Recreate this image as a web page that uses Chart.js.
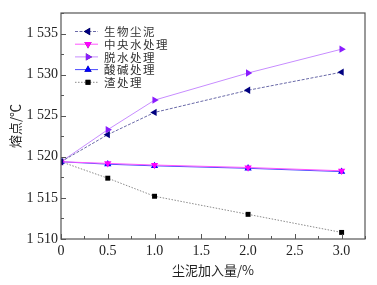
<!DOCTYPE html>
<html>
<head>
<meta charset="utf-8">
<script src="https://cdn.jsdelivr.net/npm/chart.js@4"></script>
<style>
  html, body { margin: 0; padding: 0; background: #fff; }
  #wrap { width: 377px; height: 285px; }
</style>
</head>
<body>
<div id="wrap"><canvas id="meltchart" width="377" height="285"></canvas></div>
<script>
// Data block
const dustAdded = [0, 0.5, 1.0, 2.0, 3.0];
const seriesNames = ['生物尘泥', '中央水处理', '脱水处理', '酸碱处理', '渣处理'];
const bioDust = [1519.4, 1522.7, 1525.4, 1528.1, 1530.3];
const centralWater = [1519.4, 1519.2, 1519.0, 1518.7, 1518.3];
const dewatering = [1519.4, 1523.3, 1526.9, 1530.2, 1533.1];
const acidBase = [1519.4, 1519.1, 1518.9, 1518.6, 1518.2];
const slag = [1519.4, 1517.4, 1515.2, 1513.0, 1510.8];
const xTicks = [0, 0.5, 1.0, 1.5, 2.0, 2.5, 3.0];
const yTicks = [1510, 1515, 1520, 1525, 1530, 1535];

const serifFont = "'Liberation Serif', 'Noto Sans CJK SC', serif";

function pts(values) {
    return values.map((v, i) => ({ x: dustAdded[i], y: v }));
}

// Dataset styling
const seriesData = [bioDust, centralWater, dewatering, acidBase, slag];
const markColor = ['#000080', '#ff00ff', '#8a1cff', '#0000ff', '#000000'];
const lineColor = ['#6a6aa8', '#ff55ff', '#c78cff', '#4c4cff', '#8a8a8a'];
const lineDash = [[3, 1.5], [], [], [], [1.5, 1.5]];
const markStyle = ['triangle', 'triangle', 'triangle', 'triangle', 'rect'];
const markRot = [270, 180, 90, 0, 0];

const datasets = seriesNames.map((name, i) => ({
    label: name,
    data: pts(seriesData[i]),
    borderColor: lineColor[i],
    backgroundColor: markColor[i],
    pointBorderColor: markColor[i],
    pointBackgroundColor: markColor[i],
    borderWidth: 1,
    borderDash: lineDash[i],
    pointStyle: markStyle[i],
    pointRotation: markRot[i],
    pointRadius: i === 4 ? 3.5 : 4.2,
    pointBorderWidth: 0,
    tension: 0
}));

// Frame + inward ticks plugin
const frameTicks = {
    id: 'frameTicks',
    afterDraw(chart) {
        const ctx = chart.ctx;
        const a = chart.chartArea;
        const xs = chart.scales.x, ys = chart.scales.y;
        ctx.save();
        ctx.strokeStyle = '#555';
        ctx.lineWidth = 1.2;
        ctx.strokeRect(a.left, a.top, a.right - a.left, a.bottom - a.top);
        ctx.lineWidth = 1;
        ctx.beginPath();
        for (let v = 0; v <= 3.25; v += 0.25) {
            const px = Math.round(xs.getPixelForValue(v)) + 0.5;
            const len = (Math.round(v * 4) % 2 === 0) ? 5 : 3;
            ctx.moveTo(px, a.bottom);
            ctx.lineTo(px, a.bottom - len);
        }
        for (let v = 1510; v <= 1537.5; v += 2.5) {
            const py = Math.round(ys.getPixelForValue(v)) + 0.5;
            const len = (Math.round(v * 2) % 10 === 0) ? 5 : 3;
            ctx.moveTo(a.left, py);
            ctx.lineTo(a.left + len, py);
        }
        ctx.stroke();
        ctx.restore();
    }
};

// Legend plugin (line + marker, like the figure)
const lineLegend = {
    id: 'lineLegend',
    afterDraw(chart) {
        const ctx = chart.ctx;
        const a = chart.chartArea;
        ctx.save();
        chart.data.datasets.forEach((ds, i) => {
            const y = a.top + 18.5 + i * 12.7;
            const x0 = a.left + 14, x1 = a.left + 37;
            ctx.strokeStyle = ds.borderColor;
            ctx.lineWidth = 1;
            ctx.setLineDash(ds.borderDash);
            ctx.beginPath();
            ctx.moveTo(x0, y);
            ctx.lineTo(x1, y);
            ctx.stroke();
            ctx.setLineDash([]);
            Chart.helpers.drawPoint(ctx, {
                pointStyle: ds.pointStyle,
                rotation: ds.pointRotation,
                radius: ds.pointRadius,
                borderWidth: 0
            }, a.left + 27, y);
            ctx.fillStyle = ds.backgroundColor;
            ctx.fill();
            ctx.fillStyle = '#333';
            ctx.font = "11.5px 'Noto Sans CJK SC'";
            ctx.letterSpacing = '1.5px';
            ctx.textBaseline = 'middle';
            ctx.fillText(ds.label, a.left + 43, y + 0.5);
            ctx.letterSpacing = '0px';
        });
        ctx.restore();
    }
};

// Config block
const meltConfig = {
    type: 'line',
    data: { datasets: datasets },
    options: {
        responsive: false,
        animation: false,
        layout: { padding: { top: 13, right: 12, left: 0, bottom: 0 } },
        plugins: {
            legend: { display: false },
            tooltip: { enabled: false }
        },
        scales: {
            x: {
                type: 'linear',
                min: 0,
                max: 3.25,
                afterBuildTicks(scale) {
                    scale.ticks = xTicks.map(v => ({ value: v }));
                },
                afterFit(scale) { scale.height = 46; },
                grid: { display: false, drawTicks: false },
                border: { display: false },
                ticks: {
                    color: '#222',
                    padding: 4,
                    font: { family: serifFont, size: 14 },
                    callback: v => v === 0 ? '0' : v.toFixed(1)
                },
                title: {
                    display: true,
                    text: '尘泥加入量/%',
                    color: '#222',
                    padding: { top: 4, bottom: 7 },
                    font: { family: "'Noto Sans CJK SC'", size: 13 }
                }
            },
            y: {
                type: 'linear',
                min: 1510,
                max: 1537.5,
                afterBuildTicks(scale) {
                    scale.ticks = yTicks.map(v => ({ value: v }));
                },
                afterFit(scale) { scale.width = 61; },
                grid: { display: false, drawTicks: false },
                border: { display: false },
                ticks: {
                    color: '#222',
                    padding: 3,
                    font: { family: serifFont, size: 14 },
                    callback: v => String(v).replace(/^(\d)(\d{3})$/, '$1 $2')
                },
                title: {
                    display: true,
                    text: '熔点/℃',
                    color: '#222',
                    padding: { top: 7, bottom: 2 },
                    font: { family: "'Noto Sans CJK SC'", size: 13 }
                }
            }
        }
    },
    plugins: [frameTicks, lineLegend]
};

// render / init block
const meltChart = new Chart(document.getElementById('meltchart'), meltConfig);
</script>
</body>
</html>
